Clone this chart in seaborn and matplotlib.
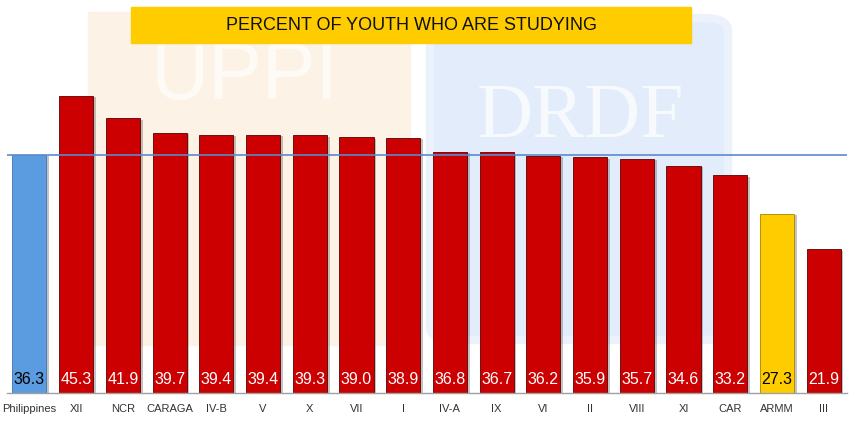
import pandas as pd
import seaborn as sns
import matplotlib.pyplot as plt
import matplotlib.patheffects as pe
from matplotlib.patches import Rectangle, FancyBboxPatch

# Datos del gráfico
regiones = ["Philippines", "XII", "NCR", "CARAGA", "IV-B", "V", "X", "VII", "I",
            "IV-A", "IX", "VI", "II", "VIII", "XI", "CAR", "ARMM", "III"]
porcentajes = [36.3, 45.3, 41.9, 39.7, 39.4, 39.4, 39.3, 39.0, 38.9,
               36.8, 36.7, 36.2, 35.9, 35.7, 34.6, 33.2, 27.3, 21.9]
promedio_nacional = 36.3
titulo = "PERCENT OF YOUTH WHO ARE STUDYING"

ROJO, AZUL, AMARILLO = "#CC0000", "#5B9BE0", "#FFCC00"
colores = {r: ROJO for r in regiones}
colores["Philippines"] = AZUL
colores["ARMM"] = AMARILLO

df = pd.DataFrame({"region": regiones, "pct": porcentajes})

sns.set_theme(style="white")
fuente = ["Liberation Sans Narrow", "Liberation Sans", "DejaVu Sans"]
plt.rcParams["font.family"] = fuente

fig = plt.figure(figsize=(8.5, 4.24), dpi=100)
W, H = 850, 424

# Marcas de agua del fondo (logos UPPI / DRDF, muy tenues)
fig.patches.append(Rectangle((88 / W, 1 - 345 / H), 322 / W, 333 / H,
                             transform=fig.transFigure, color="#FDF2E6", zorder=-2))
fig.patches.append(FancyBboxPatch((430 / W, 1 - 340 / H), 298 / W, 322 / H,
                                  boxstyle="round,pad=0.0,rounding_size=0.03",
                                  transform=fig.transFigure, facecolor="#E2ECFA",
                                  edgecolor="#ECF2FB", linewidth=6, zorder=-2))
fig.text(245 / W, 1 - 78 / H, "UPPI", color="#FFFFFF", fontsize=58, alpha=0.7,
         ha="center", va="center", family=["Liberation Sans", "DejaVu Sans"], zorder=-1)
fig.text(580 / W, 1 - 118 / H, "DRDF", color="#FFFFFF", fontsize=56, alpha=0.75,
         ha="center", va="center", family=["Liberation Serif", "DejaVu Serif"], zorder=-1)

ax = fig.add_axes([7 / W, 31 / H, 840 / W, 328 / H], zorder=1)
ax.set_facecolor("none")

sns.barplot(data=df, x="region", y="pct", hue="region", palette=colores,
            order=regiones, width=0.73, legend=False, ax=ax,
            edgecolor="#5a0000", linewidth=0.6, saturation=1)

# Bordes más acordes a cada color y una sombra leve (efecto 3D del original)
sombra = [pe.SimplePatchShadow(offset=(2, -1), shadow_rgbFace="#555555", alpha=0.35),
          pe.Normal()]
for barra, reg in zip(ax.patches, regiones):
    if reg == "Philippines":
        barra.set_edgecolor("#3F72B5")
    elif reg == "ARMM":
        barra.set_edgecolor("#A88400")
    barra.set_path_effects(sombra)

# Línea del promedio nacional
ax.axhline(promedio_nacional, color="#5B8ACF", linewidth=1.2, zorder=3)

# Etiquetas de valor dentro de las barras
for i, (reg, val) in enumerate(zip(regiones, porcentajes)):
    color_txt = "black" if reg in ("Philippines", "ARMM") else "white"
    ax.text(i, 2.05, f"{val:.1f}", ha="center", va="center",
            fontsize=11.5, color=color_txt, zorder=4)

ax.set_xlim(-0.48, 17.5)
ax.set_ylim(0, 50)
ax.set_xlabel("")
ax.set_ylabel("")
ax.set_yticks([])
ax.tick_params(axis="x", length=0, pad=8, labelsize=8, labelcolor="#333333")
for lado in ["top", "right", "left"]:
    ax.spines[lado].set_visible(False)
ax.spines["bottom"].set_color("#A0A0A0")
ax.spines["bottom"].set_linewidth(1.0)

# Título en caja amarilla
fig.patches.append(Rectangle((131 / W, 1 - 43 / H), 560 / W, 36 / H,
                             transform=fig.transFigure, color=AMARILLO, zorder=5))
fig.text(411 / W, 1 - 25 / H, titulo, ha="center", va="center",
         fontsize=13, color="#111111", zorder=6)

fig.savefig("out.png", dpi=100)
